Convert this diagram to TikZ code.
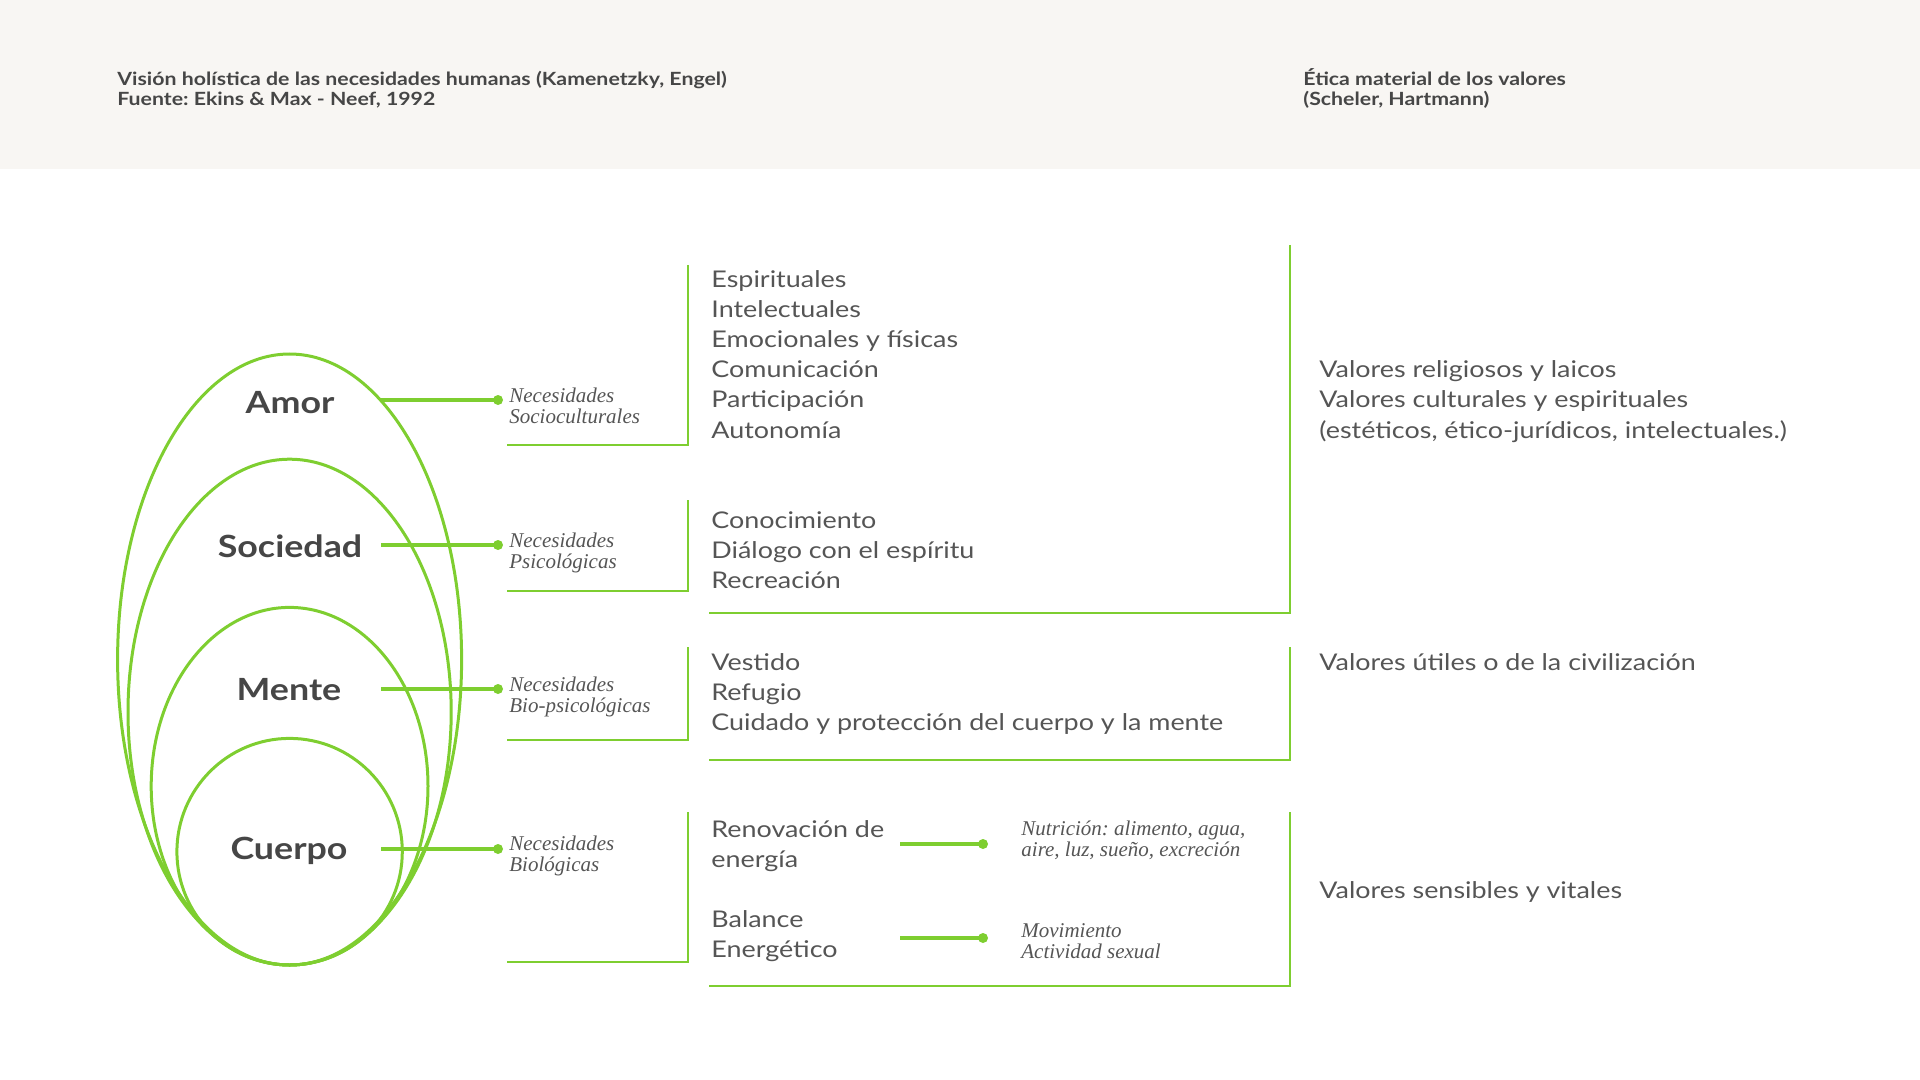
\documentclass[tikz,border=0pt]{standalone}
\usepackage{fontspec}
\setmainfont{Lato}[FakeStretch=1.17]
\newfontfamily\serifit{Liberation Serif}
\usetikzlibrary{shapes.geometric}
\frenchspacing

\definecolor{verde}{RGB}{126,206,48}
\definecolor{gristexto}{RGB}{85,85,85}
\definecolor{grisoscuro}{RGB}{70,70,70}
\definecolor{fondo}{RGB}{248,246,243}

\begin{document}
\begin{tikzpicture}[x=0.5pt, y=-0.5pt,
        capa/.style={ellipse, draw=verde, line width=1.5pt, inner sep=0pt},
        etiqueta/.style={font=\fontsize{15.3}{18}\selectfont\bfseries, text=grisoscuro, inner sep=0pt, anchor=base},
        titulo/.style={font=\fontsize{9.1}{10}\selectfont\bfseries, text=grisoscuro, inner sep=0pt, anchor=base west},
        lista/.style={font=\fontsize{11.5}{15}\selectfont, text=gristexto, inner sep=0pt, anchor=base west},
        nota/.style={font=\fontsize{10.5}{10.5}\selectfont\serifit\itshape, text=gristexto, inner sep=0pt, anchor=base west},
        punto/.style={circle, fill=verde, inner sep=0pt, minimum size=5pt},
        conector/.style={draw=verde, line width=1.75pt},
        corchete/.style={draw=verde, line width=1pt}
        ]
            \fill[fondo] (0,0) rectangle (1920,169);
            \useasboundingbox (0,0) rectangle (1920,1080);

            % Titulos
            \node[titulo] (tit-a) at (117,86)  {Visión holística de las necesidades humanas (Kamenetzky, Engel)};
            \node[titulo] (tit-b) at (117,106) {Fuente: Ekins \& Max - Neef, 1992};
            \node[titulo] (tit-c) at (1303,86)  {Ética material de los valores};
            \node[titulo] (tit-d) at (1303,106) {(Scheler, Hartmann)};

            % Elipses
            \node[capa, minimum width=172pt,   minimum height=305.5pt] (e-amor)     at (289.6,659.5) {};
            \node[capa, minimum width=161.6pt, minimum height=252.9pt] (e-sociedad) at (289.6,712.1) {};
            \node[capa, minimum width=138.4pt, minimum height=178.8pt] (e-mente)    at (289.6,786.2) {};
            \node[capa, minimum width=112.7pt, minimum height=113.3pt] (e-cuerpo)   at (289.6,851.7) {};

            \node[etiqueta] (amor)     at (290,413) {Amor};
            \node[etiqueta] (sociedad) at (290,557) {Sociedad};
            \node[etiqueta] (mente)    at (289,700) {Mente};
            \node[etiqueta] (cuerpo)   at (289,859) {Cuerpo};

            % Conectores
            \foreach \n/\y in {amor/400, sociedad/545, mente/689, cuerpo/849} {
                \coordinate (\n-a) at (381,\y);
                \node[punto] (\n-p) at (498,\y) {};
                \draw[conector] (\n-a) -- (\n-p.center);
            }

            \foreach \n/\t/\y in {amor/Socioculturales/402, sociedad/Psicológicas/547,
                                  mente/Bio-psicológicas/691, cuerpo/Biológicas/850} {
                \node[nota] (\n-n1) at (509,\y)    {Necesidades};
                \node[nota] (\n-n2) at (509,\y+21) {\t};
            }

            % Corchetes
            \foreach \t/\b in {265/445, 500/591, 647/740, 812/962}
                \draw[corchete] (688,\t) -- (688,\b) -- (507,\b);
            \foreach \t/\b in {245/613, 647/760, 812/986}
                \draw[corchete] (1290,\t) -- (1290,\b) -- (709,\b);

            % Listas
            \foreach \t [count=\i from 0] in {Espirituales, Intelectuales, Emocionales y físicas,
                                              Comunicación, Participación, Autonomía}
                \node[lista] (socio-\i) at (711,288+30*\i) {\t};
            \foreach \t [count=\i from 0] in {Conocimiento, Diálogo con el espíritu, Recreación}
                \node[lista] (psico-\i) at (711,528+30*\i) {\t};
            \foreach \t [count=\i from 0] in {Vestido, Refugio, Cuidado y protección del cuerpo y la mente}
                \node[lista] (bio-\i) at (711,670+30*\i) {\t};

            \node[lista] (reno-a) at (711,837) {Renovación de};
            \node[lista] (reno-b) at (711,867) {energía};
            \node[lista] (bal-a)  at (711,927) {Balance};
            \node[lista] (bal-b)  at (711,957) {Energético};

            \coordinate (reno-c) at (900,844);
            \node[punto] (reno-p) at (983,844) {};
            \coordinate (bal-c) at (900,938);
            \node[punto] (bal-p) at (983,938) {};
            \draw[conector] (reno-c) -- (reno-p.center);
            \draw[conector] (bal-c) -- (bal-p.center);

            \node[nota] (nut-a) at (1021,835) {Nutrición: alimento, agua,};
            \node[nota] (nut-b) at (1021,856) {aire, luz, sueño, excreción};
            \node[nota] (mov-a) at (1021,937) {Movimiento};
            \node[nota] (mov-b) at (1021,958) {Actividad sexual};

            % Valores
            \node[lista] (val-a) at (1319,378) {Valores religiosos y laicos};
            \node[lista] (val-b) at (1319,408) {Valores culturales y espirituales};
            \node[lista] (val-c) at (1319,438) {(estéticos, ético-jurídicos, intelectuales.)};
            \node[lista] (val-d) at (1319,670) {Valores útiles o de la civilización};
            \node[lista] (val-e) at (1319,898) {Valores sensibles y vitales};

        \end{tikzpicture}
\end{document}
